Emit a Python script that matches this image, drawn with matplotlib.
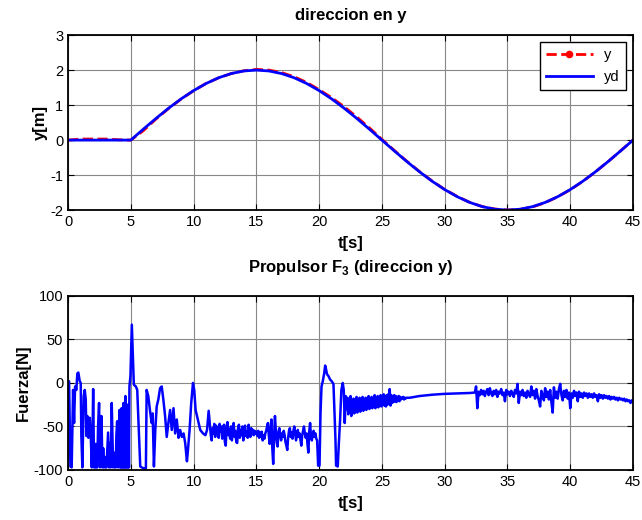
import numpy as np
import matplotlib
matplotlib.use("Agg")
import matplotlib.pyplot as plt
from matplotlib.lines import Line2D

plt.rcParams['font.family'] = ['Liberation Sans', 'DejaVu Sans']
plt.rcParams['mathtext.fontset'] = 'custom'
plt.rcParams['mathtext.bf'] = 'Liberation Sans:bold'
plt.rcParams['mathtext.rm'] = 'Liberation Sans'
plt.rcParams['axes.unicode_minus'] = False

# posicion en y: medida (y) y deseada (yd), muestreada cada segundo
t_pos = np.arange(0, 46)
y_med = [0.0, 0.03, 0.03, 0.03, 0.01, 0.0, 0.27, 0.60, 0.90, 1.17,
         1.41, 1.62, 1.78, 1.90, 1.98, 2.02, 2.00, 1.93, 1.81, 1.65,
         1.44, 1.21, 0.95, 0.66, 0.35, 0.02, -0.30, -0.61, -0.90, -1.17,
         -1.41, -1.61, -1.78, -1.90, -1.97, -2.00, -1.98, -1.91, -1.79, -1.62,
         -1.42, -1.18, -0.91, -0.62, -0.31, 0.0]
y_des = [0.0, 0.0, 0.0, 0.0, 0.0, 0.0, 0.313, 0.618, 0.908, 1.176,
         1.414, 1.618, 1.782, 1.902, 1.975, 2.0, 1.975, 1.902, 1.782, 1.618,
         1.414, 1.176, 0.908, 0.618, 0.313, 0.0, -0.313, -0.618, -0.908, -1.176,
         -1.414, -1.618, -1.782, -1.902, -1.975, -2.0, -1.975, -1.902, -1.782, -1.618,
         -1.414, -1.176, -0.908, -0.618, -0.313, 0.0]

# fuerza del propulsor 3, tramo 0 - 11.2 s (pares t, F)
t_f1 = [0.0, 0.08, 0.19, 0.29, 0.40, 0.48, 0.56, 0.66, 0.74, 0.82, 0.93, 1.01, 1.06, 1.14,
        1.25, 1.33, 1.41, 1.46, 1.54, 1.62, 1.73, 1.81, 1.89, 1.95, 2.00, 2.07, 2.12, 2.17,
        2.22, 2.26, 2.33, 2.39, 2.47, 2.55, 2.66, 2.74, 2.80, 2.86, 2.92, 2.98, 3.06, 3.19,
        3.27, 3.32, 3.40, 3.48, 3.59, 3.65, 3.72, 3.80, 3.85, 3.91, 3.99, 4.04, 4.10, 4.14,
        4.18, 4.22, 4.26, 4.30, 4.34, 4.38, 4.41, 4.45, 4.49, 4.53, 4.57, 4.61, 4.65, 4.69,
        4.73, 4.77, 4.81, 4.85, 4.89, 4.97, 5.08, 5.16, 5.24,
        5.40, 5.51, 5.59, 5.67, 5.75, 5.99, 6.20, 6.26, 6.39, 6.52, 6.66, 6.74, 6.84, 6.95,
        7.06, 7.19, 7.33, 7.46, 7.59, 7.73, 7.86, 7.99, 8.13, 8.26, 8.40, 8.53, 8.66, 8.80,
        8.93, 9.06, 9.20, 9.33, 9.47, 9.55, 9.68, 9.81, 9.95, 10.05, 10.16, 10.27, 10.40,
        10.53, 10.75, 10.94, 11.07, 11.20]
f1 = [1, 2, -96, -97, -8, -46, -4, -8, 11, 12, 2, 0, -61, -97,
      -15, -8, -19, -61, -38, -63, -40, -61, -97, -60, -7, -97, -80, -97,
      -70, -97, -97, -50, -23, -97, -38, -97, -75, -97, -85, -97, -97, -57,
      -97, -69, -97, -23, -97, -80, -97, -97, -60, -44, -97, -55, -31, -97,
      -60, -97, -29, -97, -70, -97, -23, -97, -50, -97, -15, -97, -40, -97,
      -25, -97, -30, -97, -4, 8, 67, 31, -2,
      -4, -8, -38, -65, -96, -98, -98, -8, -15, -31, -46, -35, -96, -54,
      -27, -19, -6, -4, -19, -38, -62, -46, -31, -54, -29, -58, -42, -63,
      -54, -62, -58, -69, -90, -77, -54, -23, 0, -8, -31, -38, -46,
      -54, -58, -60, -54, -32]

# tramo 11.3 - 19.84 s, muestreo uniforme
f2 = [-48, -60, -66, -52, -58, -47, -62, -49, -58, -51,
      -63, -47, -56, -50, -64, -52, -48, -68, -72, -50,
      -45, -60, -53, -64, -50, -66, -52, -46, -62, -55,
      -68, -69, -52, -48, -63, -54, -60, -50, -66, -53,
      -49, -61, -56, -63, -48, -58, -62, -52, -59, -54,
      -60, -55, -58, -56, -61, -55, -63, -57, -62, -56,
      -66, -60, -64, -58, -55, -50, -46, -60, -70, -52,
      -42, -75, -93, -62, -38, -55, -68, -73, -56, -52,
      -60, -66, -58, -62, -55, -60, -68, -72, -77, -63,
      -55, -52, -62, -57, -64, -55, -50, -58, -66, -60,
      -54, -62, -58, -65, -72, -60, -55, -50, -58, -63,
      -58, -70, -80, -56, -46, -62, -66, -58, -55, -62,
      -58, -64, -66]
t_f2 = np.linspace(11.30, 19.84, len(f2))

# tramo 19.92 - 22.12 s (pares t, F)
t_f3 = [19.92, 20.03, 20.11, 20.19, 20.29, 20.40, 20.48, 20.56, 20.63, 20.74, 20.87, 21.00,
        21.14, 21.22, 21.30, 21.35, 21.48, 21.56, 21.67, 21.77, 21.88, 21.96, 22.04, 22.12]
f3 = [-95, -95, -34, -4, 2, 11, 20, 15, 10, 8, 4, 2,
      -1, -34, -65, -95, -96, -72, -42, -8, 0, -8, -46, -15]

# tramo 22.2 - 26.94 s, muestreo uniforme
f4 = [-30, -17, -36, -21, -33, -15, -38, -24, -31, -18, -35, -20, -29, -16,
      -34, -22, -30, -17, -33, -19, -28, -16, -32, -21, -29, -17, -31, -18,
      -27, -15, -30, -20, -28, -16, -29, -18, -26, -14, -29, -19, -27, -15,
      -28, -17, -25, -14, -27, -16, -24, -13, -26, -15, -27, -14, -25, -13,
      -24, -7, -26, -14, -23, -15, -22, -14, -21, -15, -22, -16, -20, -15,
      -21, -16, -19, -17, -18, -16, -19, -17, -18, -17]
t_f4 = np.linspace(22.2, 26.94, len(f4))

# tramo suave 27.2 - 32 s
t_f5 = [27.2, 28.0, 29.0, 30.0, 31.0, 32.0]
f5 = [-17, -15, -13.5, -12.5, -12, -11.5]

# tramo 32.4 - 45 s, muestreo uniforme
f6 = [-11, -4, -29, -10, -14, -8, -13, -9, -15, -10,
      -7, -14, -6, -12, -15, -9, -13, -8, -16, -10,
      -12, -7, -14, -11, -21, -8, -13, -10, -15, -9,
      -12, -16, -8, -12, -1, -23, -10, -14, -8, -15,
      -11, -17, -9, -13, -16, -4, -14, -9, -18, -7,
      -15, -20, -27, -9, -14, -20, -6, -16, -10, -19,
      -8, -22, -34, -5, -17, -10, -18, -7, -1, -14,
      -20, -9, -16, -8, -18, -11, -29, -12, -17, -9,
      -15, -11, -21, -10, -16, -12, -17, -11, -15, -12,
      -17, -12, -16, -13, -17, -12, -16, -14, -21, -13,
      -17, -14, -18, -14, -17, -15, -18, -15, -19, -16,
      -18, -16, -19, -17, -20, -17, -19, -18, -20, -18,
      -21, -19, -21, -20, -23, -20, -21]
t_f6 = np.linspace(32.4, 45.0, len(f6))

t_f = np.concatenate([t_f1, t_f2, t_f3, t_f4, t_f5, t_f6])
fuerza = np.concatenate([f1, f2, f3, f4, f5, f6])

fig = plt.figure(figsize=(6.42, 5.2), dpi=100)
ax1 = fig.add_axes([0.106, 0.596, 0.880, 0.3365])
ax2 = fig.add_axes([0.106, 0.0962, 0.880, 0.3346])

ax1.plot(t_pos, y_med, color='red', linestyle='--', linewidth=2)
ax1.plot(t_pos, y_des, color='blue', linewidth=2)
ax1.set_xlim(0, 45)
ax1.set_ylim(-2, 3)
ax1.set_yticks([-2, -1, 0, 1, 2, 3])
ax1.set_title('direccion en y', fontsize=12, fontweight='bold', pad=11)
ax1.set_xlabel('t[s]', fontsize=12, fontweight='bold', labelpad=5)
ax1.set_ylabel('y[m]', fontsize=12, fontweight='bold', labelpad=2)
handles = [Line2D([], [], color='red', linestyle='--', marker='.', markersize=9, linewidth=2),
           Line2D([], [], color='blue', linewidth=2)]
leg = ax1.legend(handles, ['y', 'yd'], loc='upper right', fontsize=10.5, fancybox=False,
                 framealpha=1, edgecolor='black', borderaxespad=0.5, handlelength=3.2,
                 borderpad=0.4, labelspacing=0.55)
leg.get_frame().set_linewidth(1)

ax2.plot(t_f, fuerza, color='blue', linewidth=1.8)
ax2.set_xlim(0, 45)
ax2.set_ylim(-100, 100)
ax2.set_yticks([-100, -50, 0, 50, 100])
ax2.set_title(r'Propulsor F$_\mathbf{3}$ (direccion y)', fontsize=12, fontweight='bold', pad=17)
ax2.set_xlabel('t[s]', fontsize=12, fontweight='bold', labelpad=5)
ax2.set_ylabel('Fuerza[N]', fontsize=12, fontweight='bold', labelpad=2)

for ax in (ax1, ax2):
    ax.set_xticks(np.arange(0, 46, 5))
    ax.grid(True, color='#888888', linewidth=0.8)
    ax.tick_params(direction='in', top=True, right=True, labelsize=10.5, length=4)
    for s in ax.spines.values():
        s.set_linewidth(1.3)

fig.savefig('out.png', dpi=100)
